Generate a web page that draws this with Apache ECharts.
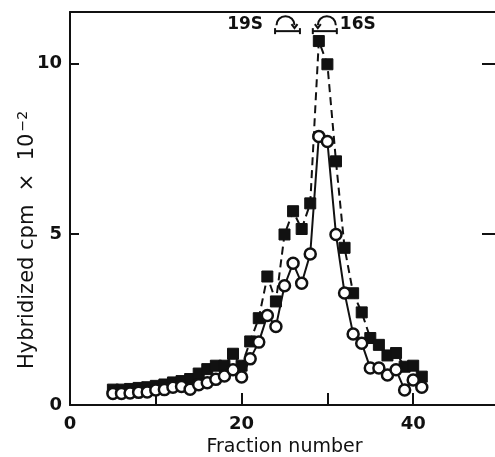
<!DOCTYPE html>
<html>
<head>
<meta charset="utf-8">
<script src="https://cdn.jsdelivr.net/npm/echarts@6/dist/echarts.min.js"></script>
<style>
  html, body { margin: 0; padding: 0; background: #fff; overflow: hidden; }
  #chart { width: 495px; height: 457px; }
</style>
</head>
<body>
<div id="chart"></div>
<script>
// fraction numbers 5..41
const fractions = [5, 6, 7, 8, 9, 10, 11, 12, 13, 14, 15, 16, 17, 18, 19, 20, 21, 22, 23,
  24, 25, 26, 27, 28, 29, 30, 31, 32, 33, 34, 35, 36, 37, 38, 39, 40, 41];

// filled squares, dashed line
const filledValues = [0.45, 0.45, 0.47, 0.5, 0.52, 0.56, 0.6, 0.66, 0.7, 0.76, 0.92, 1.05, 1.15,
  1.15, 1.5, 1.15, 1.86, 2.54, 3.76, 3.03, 4.99, 5.67, 5.15, 5.9, 10.65, 9.97, 7.13, 4.6, 3.27,
  2.71, 1.96, 1.76, 1.45, 1.52, 1.12, 1.15, 0.83];

// open circles, solid line
const openValues = [0.34, 0.34, 0.35, 0.37, 0.38, 0.44, 0.45, 0.52, 0.54, 0.46, 0.59, 0.65, 0.75,
  0.85, 1.03, 0.82, 1.35, 1.84, 2.62, 2.3, 3.49, 4.15, 3.56, 4.42, 7.86, 7.71, 4.99, 3.28, 2.08,
  1.81, 1.08, 1.08, 0.88, 1.03, 0.44, 0.73, 0.52];

// sedimentation markers (fraction range, label)
const markers = [
  { name: "19S", from: 23.9, to: 26.8 },
  { name: "16S", from: 28.3, to: 31.1 }
];
const markerLevel = 10.94;

const font = "DejaVu Sans, Liberation Sans, sans-serif";
const ink = "#111";

let chart = echarts.init(document.getElementById("chart"));

let option = {
  backgroundColor: "#fff",
  animation: false,
  grid: { left: 70, width: 429, top: 12, bottom: 52, outerBoundsMode: "none", containLabel: false },
  xAxis: [
    {
      type: "value",
      min: 0,
      max: 50,
      interval: 10,
      name: "Fraction number",
      nameLocation: "middle",
      nameGap: 33,
      nameTextStyle: { fontFamily: font, fontSize: 19, color: ink },
      axisLine: { onZero: false, lineStyle: { color: ink, width: 2 } },
      axisTick: { inside: true, length: 12, lineStyle: { color: ink, width: 2 } },
      axisLabel: {
        fontFamily: font, fontSize: 18, fontWeight: "bold", color: ink, margin: 10,
        formatter: v => (v % 20 === 0 ? String(v) : "")
      },
      splitLine: { show: false }
    },
    {
      type: "value",
      position: "top",
      min: 0,
      max: 50,
      axisLine: { onZero: false, lineStyle: { color: ink, width: 2 } },
      axisTick: { show: false },
      axisLabel: { show: false },
      splitLine: { show: false }
    }
  ],
  yAxis: [
    {
      type: "value",
      min: 0,
      max: 11.5,
      interval: 5,
      axisLine: { onZero: false, lineStyle: { color: ink, width: 2 } },
      axisTick: { inside: true, length: 9, lineStyle: { color: ink, width: 2 } },
      axisLabel: {
        fontFamily: font, fontSize: 18, fontWeight: "bold", color: ink, margin: 8,
        showMaxLabel: false
      },
      splitLine: { show: false }
    },
    {
      // right-hand frame: its line sits off the canvas, only the inward ticks show
      type: "value",
      position: "right",
      offset: 12,
      min: 0,
      max: 11.5,
      interval: 5,
      axisLine: { show: false, onZero: false },
      axisTick: { show: true, inside: true, length: 29, lineStyle: { color: ink, width: 2 } },
      axisLabel: { show: false },
      splitLine: { show: false }
    }
  ],
  series: [
    {
      name: "filled",
      type: "line",
      data: fractions.map((f, i) => [f, filledValues[i]]),
      symbol: "rect",
      symbolSize: 11,
      itemStyle: { color: ink, borderColor: ink },
      lineStyle: { color: ink, width: 2, type: [8, 5] },
      z: 2
    },
    {
      name: "open",
      type: "line",
      data: fractions.map((f, i) => [f, openValues[i]]),
      symbol: "circle",
      symbolSize: 11,
      itemStyle: { color: "#fff", borderColor: ink, borderWidth: 2.5 },
      lineStyle: { color: ink, width: 2 },
      z: 3
    }
  ]
};

chart.setOption(option);

// y axis title, drawn as graphic so it can sit lower than the grid middle
let graphics = [{
  type: "text",
  x: 28,
  y: 240,
  rotation: Math.PI / 2,
  style: {
    text: "Hybridized cpm  ×  10{sup|−2}",
    fontFamily: font, fontSize: 21, fill: ink,
    textAlign: "center", textVerticalAlign: "middle",
    rich: { sup: { fontFamily: font, fontSize: 14, fill: ink, verticalAlign: "top", padding: [0, 0, 10, 2] } }
  }
}];

// sedimentation marker annotations, placed from data coordinates
markers.forEach((m, k) => {
  let a = chart.convertToPixel({ gridIndex: 0 }, [m.from, markerLevel]);
  let b = chart.convertToPixel({ gridIndex: 0 }, [m.to, markerLevel]);
  let line = { stroke: ink, lineWidth: 2 };
  graphics.push({ type: "line", shape: { x1: a[0], y1: a[1], x2: b[0], y2: b[1] }, style: line });
  graphics.push({ type: "line", shape: { x1: a[0], y1: a[1] - 3, x2: a[0], y2: a[1] + 3 }, style: line });
  graphics.push({ type: "line", shape: { x1: b[0], y1: b[1] - 3, x2: b[0], y2: b[1] + 3 }, style: line });
  let cx = (a[0] + b[0]) / 2 + (k === 0 ? -2 : 2);
  let r = 9;
  graphics.push({
    type: "arc",
    shape: { cx: cx, cy: a[1] - 6, r: r, startAngle: Math.PI, endAngle: 2 * Math.PI },
    style: { stroke: ink, lineWidth: 2, fill: null }
  });
  // arrow end: right for 19S, left for 16S
  let ex = k === 0 ? cx + r : cx - r;
  graphics.push({
    type: "polyline",
    shape: { points: [[ex - 3, a[1] - 7], [ex, a[1] - 3], [ex + 3, a[1] - 7]] },
    style: { stroke: ink, lineWidth: 2, fill: null }
  });
  graphics.push({
    type: "text",
    x: k === 0 ? a[0] - 12 : b[0] + 3,
    y: a[1] - 7,
    style: {
      text: m.name, fontFamily: font, fontSize: 17, fontWeight: "bold", fill: ink,
      textAlign: k === 0 ? "right" : "left", textVerticalAlign: "middle"
    }
  });
});
chart.setOption({ graphic: graphics });
</script>
</body>
</html>
